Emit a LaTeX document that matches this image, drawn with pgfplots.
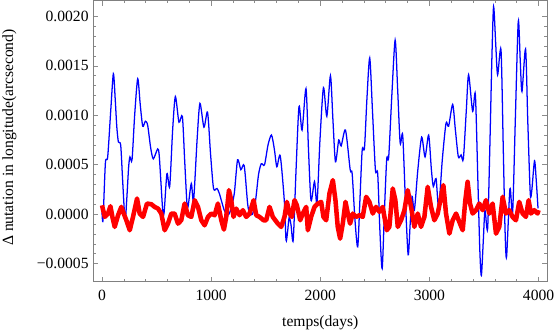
\documentclass[border=0pt]{standalone}
\usepackage{pgfplots}
\pgfplotsset{compat=1.18}
\usepackage{fontspec}
\setmainfont{Liberation Serif}
\newcommand{\lblfont}{\fontsize{11.7}{14}\selectfont}

\begin{document}
\begin{tikzpicture}
\begin{axis}[
  scale only axis,
  width=340.5pt, height=211pt,
  xmin=-80, xmax=4080,
  ymin=-0.000684, ymax=0.00216,
  xtick={0,1000,2000,3000,4000},
  xticklabels={0,1000,2000,3000,4000},
  ytick={-0.0005,0,0.0005,0.001,0.0015,0.002},
  yticklabels={−0.0005,0.0000,0.0005,0.0010,0.0015,0.0020},
  scaled y ticks=false,
  minor x tick num=4, minor y tick num=4,
  tick align=inside, tick pos=both,
  major tick length=3.8pt, minor tick length=2.2pt,
  every tick/.style={black!45, line width=0.5pt},
  axis line style={black!50, line width=0.6pt},
  tick label style={font=\lblfont},
  xticklabel style={yshift=-3pt},
  label style={font=\lblfont},
  xlabel={temps(days)},
  ylabel={Δ nutation in longitude(arcsecond)},
  xlabel style={at={(rel axis cs:0.5,-0.160)}, anchor=base},
  ylabel style={at={(rel axis cs:-0.1846,0.513)}, anchor=center},
  clip=true,
]
% blue series
\addplot[blue, line width=0.95pt, smooth, tension=0.45] coordinates {
(0,0.00002) (9,-0.00006) (31,0.00052) (52,0.00058) (80,0.00105) (104,0.00142)
(121,0.00116) (135,0.00089) (150,0.00073) (171,0.00070) (189,0.00034) (211,-0.00006)
(226,0.00014) (244,0.00048) (256,0.00058) (275,0.00055) (299,0.00100) (327,0.00137)
(350,0.00111) (373,0.00089) (397,0.00094) (418,0.00090) (446,0.00067) (470,0.00056)
(510,0.00066) (525,0.00058) (556,0.00004) (569,0.00002) (595,0.00041) (620,0.00028)
(647,0.00085) (672,0.00119) (705,0.00093) (736,0.00099) (757,0.00055) (778,0.00011)
(789,0.00008) (818,0.00031) (839,0.00014) (871,0.00075) (897,0.00112) (934,0.00088)
(967,0.00103) (995,0.00060) (1022,0.00026) (1053,0.00026) (1075,0.00021) (1120,0.00004)
(1153,-0.00001) (1178,0.00004) (1212,0.00021) (1242,0.00055) (1272,0.00045) (1303,0.00049)
(1334,0.00011) (1352,0.00001) (1379,0.00000) (1407,0.00014) (1434,0.00040) (1459,0.00051)
(1489,0.00050) (1521,0.00070) (1553,0.00080) (1580,0.00065) (1602,0.00048) (1633,0.00059)
(1670,0.00014) (1686,-0.00026) (1700,-0.00018) (1715,-0.00003) (1732,-0.00011) (1752,-0.00026)
(1778,0.00045) (1805,0.00109) (1833,0.00085) (1869,0.00127) (1892,0.00065) (1915,0.00014)
(1947,0.00033) (1970,0.00011) (1997,0.00075) (2029,0.00128) (2060,0.00099) (2093,0.00140)
(2116,0.00095) (2139,0.00053) (2169,0.00075) (2191,0.00069) (2231,0.00085) (2274,0.00045)
(2292,0.00041) (2318,-0.00006) (2343,-0.00033) (2363,0.00014) (2384,0.00065) (2405,0.00067)
(2427,0.00116) (2453,0.00158) (2478,0.00105) (2505,0.00045) (2526,0.00041) (2546,-0.00016)
(2567,-0.00055) (2588,0.00004) (2609,0.00056) (2627,0.00058) (2656,0.00121) (2686,0.00176)
(2709,0.00126) (2732,0.00072) (2755,0.00080) (2780,0.00014) (2805,-0.00041) (2823,-0.00011)
(2841,0.00018) (2862,0.00004) (2894,0.00045) (2929,0.00078) (2960,0.00058) (2993,0.00080)
(3018,0.00045) (3036,0.00028) (3061,0.00036) (3085,0.00007) (3118,0.00055) (3152,0.00092)
(3176,0.00089) (3213,0.00111) (3238,0.00085) (3265,0.00058) (3290,0.00060) (3311,0.00056)
(3338,0.00105) (3359,0.00141) (3396,0.00104) (3421,0.00121) (3444,0.00034) (3462,-0.00037)
(3476,-0.00062) (3494,-0.00026) (3509,0.00004) (3533,-0.00015) (3553,0.00065) (3572,0.00156)
(3588,0.00210) (3608,0.00171) (3625,0.00141) (3656,0.00166) (3677,0.00065) (3693,-0.00016)
(3707,-0.00043) (3738,0.00026) (3762,0.00001) (3787,0.00095) (3814,0.00195) (3832,0.00156)
(3848,0.00124) (3881,0.00167) (3901,0.00095) (3924,0.00021) (3938,0.00024) (3963,0.00054)
(3979,0.00034) (3995,0.00006)
};
% red series
\addplot[red, line width=3.4pt, line join=round] coordinates {
(0,0.000090) (25,-0.000027) (55,0.000007) (77,0.000081) (95,-0.000027) (116,-0.000128)
(147,-0.000010) (177,0.000074) (199,0.000007) (223,-0.000061) (254,-0.000162) (284,-0.000027)
(321,0.000159) (345,0.000007) (376,-0.000027) (412,0.000108) (452,0.000101) (482,0.000074)
(513,0.000057) (543,0.000007) (574,-0.000162) (604,-0.000095) (635,0.000007) (665,0.000007)
(696,-0.000095) (726,-0.000061) (757,0.000108) (787,-0.000010) (818,-0.000027) (849,0.000142)
(879,0.000074) (910,-0.000061) (940,-0.000112) (971,-0.000027) (1001,0.000007) (1032,-0.000010)
(1062,0.000108) (1093,-0.000061) (1117,-0.000155) (1138,-0.000027) (1163,0.000243) (1184,0.000142)
(1205,-0.000027) (1230,0.000057) (1260,-0.000010) (1291,0.000041) (1321,-0.000027) (1352,0.000007)
(1389,0.000142) (1413,-0.000010) (1443,-0.000027) (1480,-0.000061) (1504,-0.000061) (1535,0.000074)
(1565,-0.000027) (1611,-0.000095) (1642,-0.000128) (1672,-0.000027) (1694,0.000125) (1718,0.000007)
(1739,-0.000027) (1764,0.000142) (1785,0.000091) (1816,-0.000061) (1840,0.000007) (1871,0.000074)
(1886,-0.000162) (1916,-0.000027) (1947,0.000074) (1977,0.000108) (2008,0.000125) (2029,-0.000027)
(2054,-0.000061) (2084,0.000210) (2115,0.000345) (2139,0.000142) (2160,-0.000128) (2182,-0.000247)
(2206,-0.000095) (2231,0.000125) (2252,0.000007) (2273,-0.000095) (2298,0.000007) (2328,-0.000027)
(2359,-0.000010) (2389,-0.000027) (2420,0.000176) (2450,0.000125) (2481,0.000007) (2511,0.000074)
(2542,0.000024) (2572,0.000074) (2609,-0.000162) (2633,-0.000128) (2664,0.000260) (2688,0.000142)
(2710,-0.000128) (2740,-0.000061) (2771,0.000041) (2801,0.000243) (2832,0.000074) (2862,-0.000128)
(2893,0.000007) (2923,-0.000128) (2954,-0.000027) (2984,0.000277) (3015,0.000074) (3045,-0.000061)
(3076,0.000007) (3128,0.000294) (3152,0.000007) (3183,-0.000196) (3213,-0.000061) (3244,0.000007)
(3274,-0.000078) (3305,-0.000162) (3329,0.000142) (3350,0.000328) (3372,0.000108) (3396,0.000007)
(3427,0.000041) (3457,0.000108) (3488,0.000041) (3518,0.000142) (3549,0.000007) (3579,0.000108)
(3610,-0.000196) (3640,-0.000128) (3671,0.000176) (3701,0.000007) (3732,0.000041) (3762,-0.000027)
(3793,-0.000061) (3823,0.000125) (3854,0.000007) (3884,-0.000027) (3909,0.000142) (3930,0.000007)
(3961,0.000041) (3991,0.000007) (4000,0.000041)
};
\coordinate (bl) at (rel axis cs:-0.2055,-0.1895);
\coordinate (tr) at (rel axis cs:1.017,1.002);
\end{axis}
\pgfresetboundingbox
\path[use as bounding box] (bl) rectangle (tr);
\end{tikzpicture}
\end{document}
